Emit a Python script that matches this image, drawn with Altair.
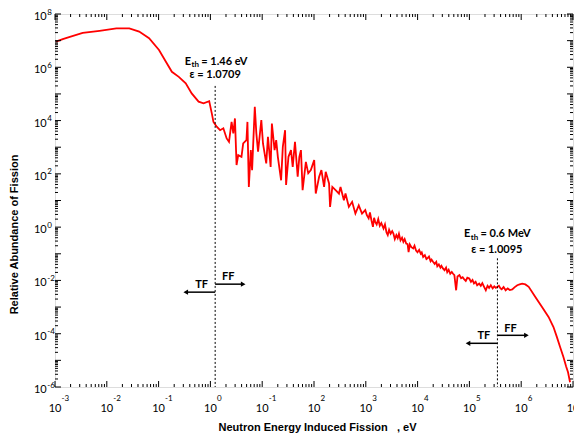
import altair as alt
import pandas as pd

# ---------------- data (log10 values) ----------------
log_energy = [-2.981, -2.85, -2.713, -2.465, -2.14, -1.815, -1.566, -1.375, -1.184, -0.992, -0.859,
              -0.744, -0.61, -0.476, -0.361, -0.228, -0.132, -0.023, 0.027, 0.059, 0.122,
              0.187, 0.25, 0.314, 0.359, 0.409, 0.442, 0.474, 0.505, 0.537, 0.60,
              0.633, 0.696, 0.715, 0.742, 0.78, 0.805, 0.857, 0.887, 0.92, 0.983,
              1.015, 1.078, 1.111, 1.163, 1.187, 1.239, 1.27, 1.302, 1.365, 1.398,
              1.442, 1.461, 1.507, 1.556, 1.589, 1.633, 1.685, 1.717, 1.748, 1.78,
              1.843, 1.889, 1.939, 2.004, 2.034, 2.099, 2.143, 2.195, 2.226, 2.291,
              2.31, 2.354, 2.417, 2.482, 2.512, 2.577, 2.608, 2.673, 2.736, 2.799,
              2.864, 2.927, 2.99, 3.02, 3.055, 3.08, 3.11, 3.138, 3.16, 3.182,
              3.21, 3.24, 3.27, 3.30, 3.342, 3.37, 3.40, 3.424, 3.45, 3.48,
              3.51, 3.533, 3.56, 3.59, 3.616, 3.64, 3.67, 3.70, 3.725, 3.75,
              3.78, 3.807, 3.826, 3.85, 3.88, 3.916, 3.94, 3.97, 3.998, 4.03,
              4.06, 4.08, 4.107, 4.14, 4.17, 4.189, 4.22, 4.25, 4.27, 4.298,
              4.33, 4.36, 4.38, 4.41, 4.44, 4.46, 4.489, 4.52, 4.55, 4.572,
              4.60, 4.63, 4.66, 4.681, 4.71, 4.744, 4.77, 4.807, 4.84, 4.87,
              4.897, 4.93, 4.96, 4.998, 5.03, 5.06, 5.088, 5.12, 5.15, 5.189,
              5.22, 5.25, 5.279, 5.317, 5.35, 5.38, 5.413, 5.45, 5.48, 5.51,
              5.541, 5.57, 5.60, 5.623, 5.66, 5.70, 5.74, 5.78, 5.828, 5.87,
              5.924, 5.97, 6.019, 6.08, 6.145, 6.273, 6.402, 6.528, 6.623, 6.688,
              6.751, 6.815, 6.866, 6.904, 6.943]
log_abundance = [6.96, 7.06, 7.14, 7.29, 7.37, 7.46, 7.46, 7.34, 7.09, 6.65, 6.21,
                 5.83, 5.64, 5.40, 5.02, 4.71, 4.65, 4.73, 4.27, 3.95, 3.77,
                 3.64, 3.71, 3.33, 3.20, 3.95, 3.52, 4.08, 2.33, 2.70, 2.64,
                 3.14, 3.27, 3.95, 1.51, 2.89, 2.14, 4.52, 3.52, 2.83, 4.02,
                 3.14, 2.39, 3.39, 2.26, 3.89, 2.89, 3.27, 2.64, 1.76, 3.01,
                 3.64, 1.58, 2.64, 2.89, 2.26, 3.20, 1.89, 2.64, 2.89, 1.39,
                 2.45, 2.02, 2.14, 2.52, 1.26, 1.89, 2.14, 1.51, 2.08, 1.64,
                 0.76, 1.51, 1.39, 1.26, 1.51, 1.01, 1.26, 0.76, 0.95, 0.51,
                 0.82, 0.51, 0.64, 0.45, 0.33, 0.55, 0.25, 0.01, 0.35, 0.20,
                 0.10, 0.30, 0.05, 0.15, -0.05, 0.10, -0.20, -0.30, -0.10, -0.25,
                 -0.15, -0.24, -0.45, -0.30, -0.41, -0.25, -0.50, -0.40, -0.55, -0.45,
                 -0.62, -0.64, -0.94, -0.65, -0.75, -0.80, -0.70, -0.88, -0.94, -0.85,
                 -1.00, -0.95, -1.12, -1.05, -1.20, -1.17, -1.10, -1.28, -1.22, -1.30,
                 -1.38, -1.30, -1.47, -1.40, -1.52, -1.45, -1.55, -1.62, -1.52, -1.69,
                 -1.60, -1.75, -1.68, -1.74, -1.80, -2.37, -1.85, -1.80, -1.92, -1.88,
                 -1.95, -2.02, -1.90, -1.93, -2.05, -1.98, -2.11, -2.05, -2.18, -2.12,
                 -2.20, -2.10, -2.22, -2.37, -2.20, -2.28, -2.18, -2.30, -2.22, -2.28,
                 -2.24, -2.20, -2.30, -2.33, -2.25, -2.37, -2.30, -2.36, -2.34, -2.26,
                 -2.18, -2.15, -2.12, -2.15, -2.24, -2.62, -3.00, -3.37, -3.75, -4.12,
                 -4.50, -4.87, -5.22, -5.45, -5.82]

x_label_decades = [-3, -2, -1, 0, 1, 2, 3, 4, 5, 6, 7]
x_label_exponents = ["-3", "-2", "-1", "0", "-1", "2", "3", "4", "5", "6", "7"]
y_label_decades = [-6, -4, -2, 0, 2, 4, 6, 8]
y_label_exponents = ["-6", "-4", "-2", "0", "2", "4", "6", "8"]

threshold_log_energy = [0.092, 5.541]
threshold_log_top = [5.30, -1.17]
eth_values = ["= 1.46 eV", "= 0.6 MeV"]
eps_values = ["ε = 1.0709", "ε = 1.0095"]
eth_left_log_energy = [-0.495, 4.897]
eps_center_log_energy = [0.092, 5.53]
eth_log_y = [6.21, -0.27]
eps_log_y = [5.72, -0.84]

tf_end_log_energy = [-0.476, 4.973]
tf_log_y = [-2.44, -4.36]
ff_end_log_energy = [0.633, 6.101]
ff_log_y = [-2.14, -4.06]
tf_text_log = [(-0.17, -2.18), (5.279, -4.10)]
ff_text_log = [(0.346, -1.88), (5.795, -3.83)]

# ---------------- build tables ----------------
W, H = 518, 373
FONT = "Lato"
NB = "\u00a0"

curve = pd.DataFrame({"E": [10 ** v for v in log_energy],
                      "A": [10 ** v for v in log_abundance]})
xlab = pd.DataFrame({"E": [10.0 ** d for d in x_label_decades], "exp": x_label_exponents})
ylab = pd.DataFrame({"A": [10.0 ** d for d in y_label_decades], "exp": y_label_exponents})
x_major = pd.DataFrame({"E": [10.0 ** d for d in range(-3, 8)]})
x_minor = pd.DataFrame({"E": [m * 10.0 ** d for d in range(-3, 7) for m in range(2, 10)]})
y_major = pd.DataFrame({"A": [10.0 ** d for d in range(-6, 9)]})
y_minor = pd.DataFrame({"A": [m * 10.0 ** d for d in range(-6, 8) for m in range(2, 10)]})

thr = pd.DataFrame({"E": [10 ** v for v in threshold_log_energy],
                    "top": [10 ** v for v in threshold_log_top],
                    "bottom": [1e-6, 1e-6]})
eth = pd.DataFrame({"E": [10 ** v for v in eth_left_log_energy],
                    "A": [10 ** v for v in eth_log_y],
                    "txt": eth_values})
eps = pd.DataFrame({"E": [10 ** v for v in eps_center_log_energy],
                    "A": [10 ** v for v in eps_log_y],
                    "txt": eps_values})
tf = pd.DataFrame({"E": [10 ** v for v in threshold_log_energy],
                   "E2": [10 ** v for v in tf_end_log_energy],
                   "A": [10 ** v for v in tf_log_y]})
ff = pd.DataFrame({"E": [10 ** v for v in threshold_log_energy],
                   "E2": [10 ** v for v in ff_end_log_energy],
                   "A": [10 ** v for v in ff_log_y]})
tft = pd.DataFrame({"E": [10 ** a for a, b in tf_text_log], "A": [10 ** b for a, b in tf_text_log]})
fft = pd.DataFrame({"E": [10 ** a for a, b in ff_text_log], "A": [10 ** b for a, b in ff_text_log]})

xs = alt.Scale(type="log", domain=[1e-3, 1e7], nice=False)
ys = alt.Scale(type="log", domain=[1e-6, 1e8], nice=False)
XAX = alt.Axis(title="Neutron Energy Induced Fission" + NB * 3 + ", eV", labels=False, ticks=False,
               domain=False, grid=False, titleX=262, titleY=40, titleBaseline="middle",
               titleAlign="center")
YAX = alt.Axis(title="Relative Abundance of Fission", labels=False, ticks=False,
               domain=False, grid=False, titleX=-41, titleY=220, titleBaseline="middle",
               titleAlign="center", titleAngle=-90)


def X(f="E"):
    return alt.X(f"{f}:Q", scale=xs, axis=XAX)


def Y(f="A"):
    return alt.Y(f"{f}:Q", scale=ys, axis=YAX)


line = alt.Chart(curve).mark_line(color="#ff0000", strokeWidth=1.8).encode(x=X(), y=Y())

# ticks (inward, all four sides)
tick_layers = []
for df, ln in [(x_major, 6), (x_minor, 3)]:
    tick_layers.append(alt.Chart(df).mark_rule(color="black", strokeWidth=1).encode(
        x=X(), y=alt.value(H), y2=alt.value(H - ln)))
    tick_layers.append(alt.Chart(df).mark_rule(color="black", strokeWidth=1).encode(
        x=X(), y=alt.value(0), y2=alt.value(ln)))
for df, ln in [(y_major, 6), (y_minor, 3)]:
    tick_layers.append(alt.Chart(df).mark_rule(color="black", strokeWidth=1).encode(
        y=Y(), x=alt.value(0), x2=alt.value(ln)))
    tick_layers.append(alt.Chart(df).mark_rule(color="black", strokeWidth=1).encode(
        y=Y(), x=alt.value(W), x2=alt.value(W - ln)))

# tick labels
xl10 = alt.Chart(xlab).mark_text(font=FONT, fontSize=11, align="center", baseline="middle",
                                 color="black").encode(x=X(), y=alt.value(H + 22), text=alt.value("10"))
xlexp = alt.Chart(xlab).mark_text(font=FONT, fontSize=8, align="left", baseline="middle", dx=6.5,
                                  color="black").encode(x=X(), y=alt.value(H + 12), text="exp:N")
yl10 = alt.Chart(ylab).mark_text(font=FONT, fontSize=11, align="right", baseline="middle", dy=3,
                                 color="black").encode(y=Y(), x=alt.value(-8.3), text=alt.value("10"))
ylexp = alt.Chart(ylab).mark_text(font=FONT, fontSize=8, align="left", baseline="middle", dy=-1.5,
                                  color="black").encode(y=Y(), x=alt.value(-7.8), text="exp:N")

# threshold lines
thr_rule = alt.Chart(thr).mark_rule(color="black", strokeWidth=1, strokeDash=[2, 2]).encode(
    x=X(), y=Y("top"), y2="bottom:Q")

# annotations
eth_E = alt.Chart(eth).mark_text(font=FONT, fontSize=11, fontWeight="bold", align="left",
                                 baseline="middle", color="black").encode(x=X(), y=Y(), text=alt.value("E"))
eth_th = alt.Chart(eth).mark_text(font=FONT, fontSize=8, fontWeight="bold", align="left",
                                  baseline="middle", dx=6.8, dy=3.5, color="black").encode(
    x=X(), y=Y(), text=alt.value("th"))
eth_rest = alt.Chart(eth).mark_text(font=FONT, fontSize=11, fontWeight="bold", align="left",
                                    baseline="middle", dx=16.5, color="black").encode(
    x=X(), y=Y(), text="txt:N")
eps_t = alt.Chart(eps).mark_text(font=FONT, fontSize=11, fontWeight="bold", align="center",
                                 baseline="middle", color="black").encode(x=X(), y=Y(), text="txt:N")

# arrows
tf_rule = alt.Chart(tf).mark_rule(color="black", strokeWidth=1.5).encode(x=X(), x2="E2:Q", y=Y())
ff_rule = alt.Chart(ff).mark_rule(color="black", strokeWidth=1.5).encode(x=X(), x2="E2:Q", y=Y())
tf_head = alt.Chart(tf).mark_point(shape="triangle-left", filled=True, color="black", size=28,
                                   opacity=1).encode(x=X("E2"), y=Y())
ff_head = alt.Chart(ff).mark_point(shape="triangle-right", filled=True, color="black", size=28,
                                   opacity=1).encode(x=X("E2"), y=Y())
tf_txt = alt.Chart(tft).mark_text(font=FONT, fontSize=11, fontWeight="bold", align="center",
                                  baseline="middle", color="black").encode(x=X(), y=Y(), text=alt.value("TF"))
ff_txt = alt.Chart(fft).mark_text(font=FONT, fontSize=11, fontWeight="bold", align="center",
                                  baseline="middle", color="black").encode(x=X(), y=Y(), text=alt.value("FF"))

chart = alt.layer(
    line, *tick_layers, xl10, xlexp, yl10, ylexp, thr_rule,
    eth_E, eth_th, eth_rest, eps_t, tf_rule, ff_rule, tf_head, ff_head, tf_txt, ff_txt
).properties(
    width=W, height=H, autosize="none",
    padding={"left": 47, "top": 6, "right": 1, "bottom": 46}
).configure_view(
    stroke="black", strokeWidth=1.2
).configure_axis(
    titleFont=FONT, titleFontSize=11.5, titleFontWeight="bold", titleColor="black"
).configure(background="white")

chart.save("out.html", embed_options={"renderer": "svg", "actions": False})
